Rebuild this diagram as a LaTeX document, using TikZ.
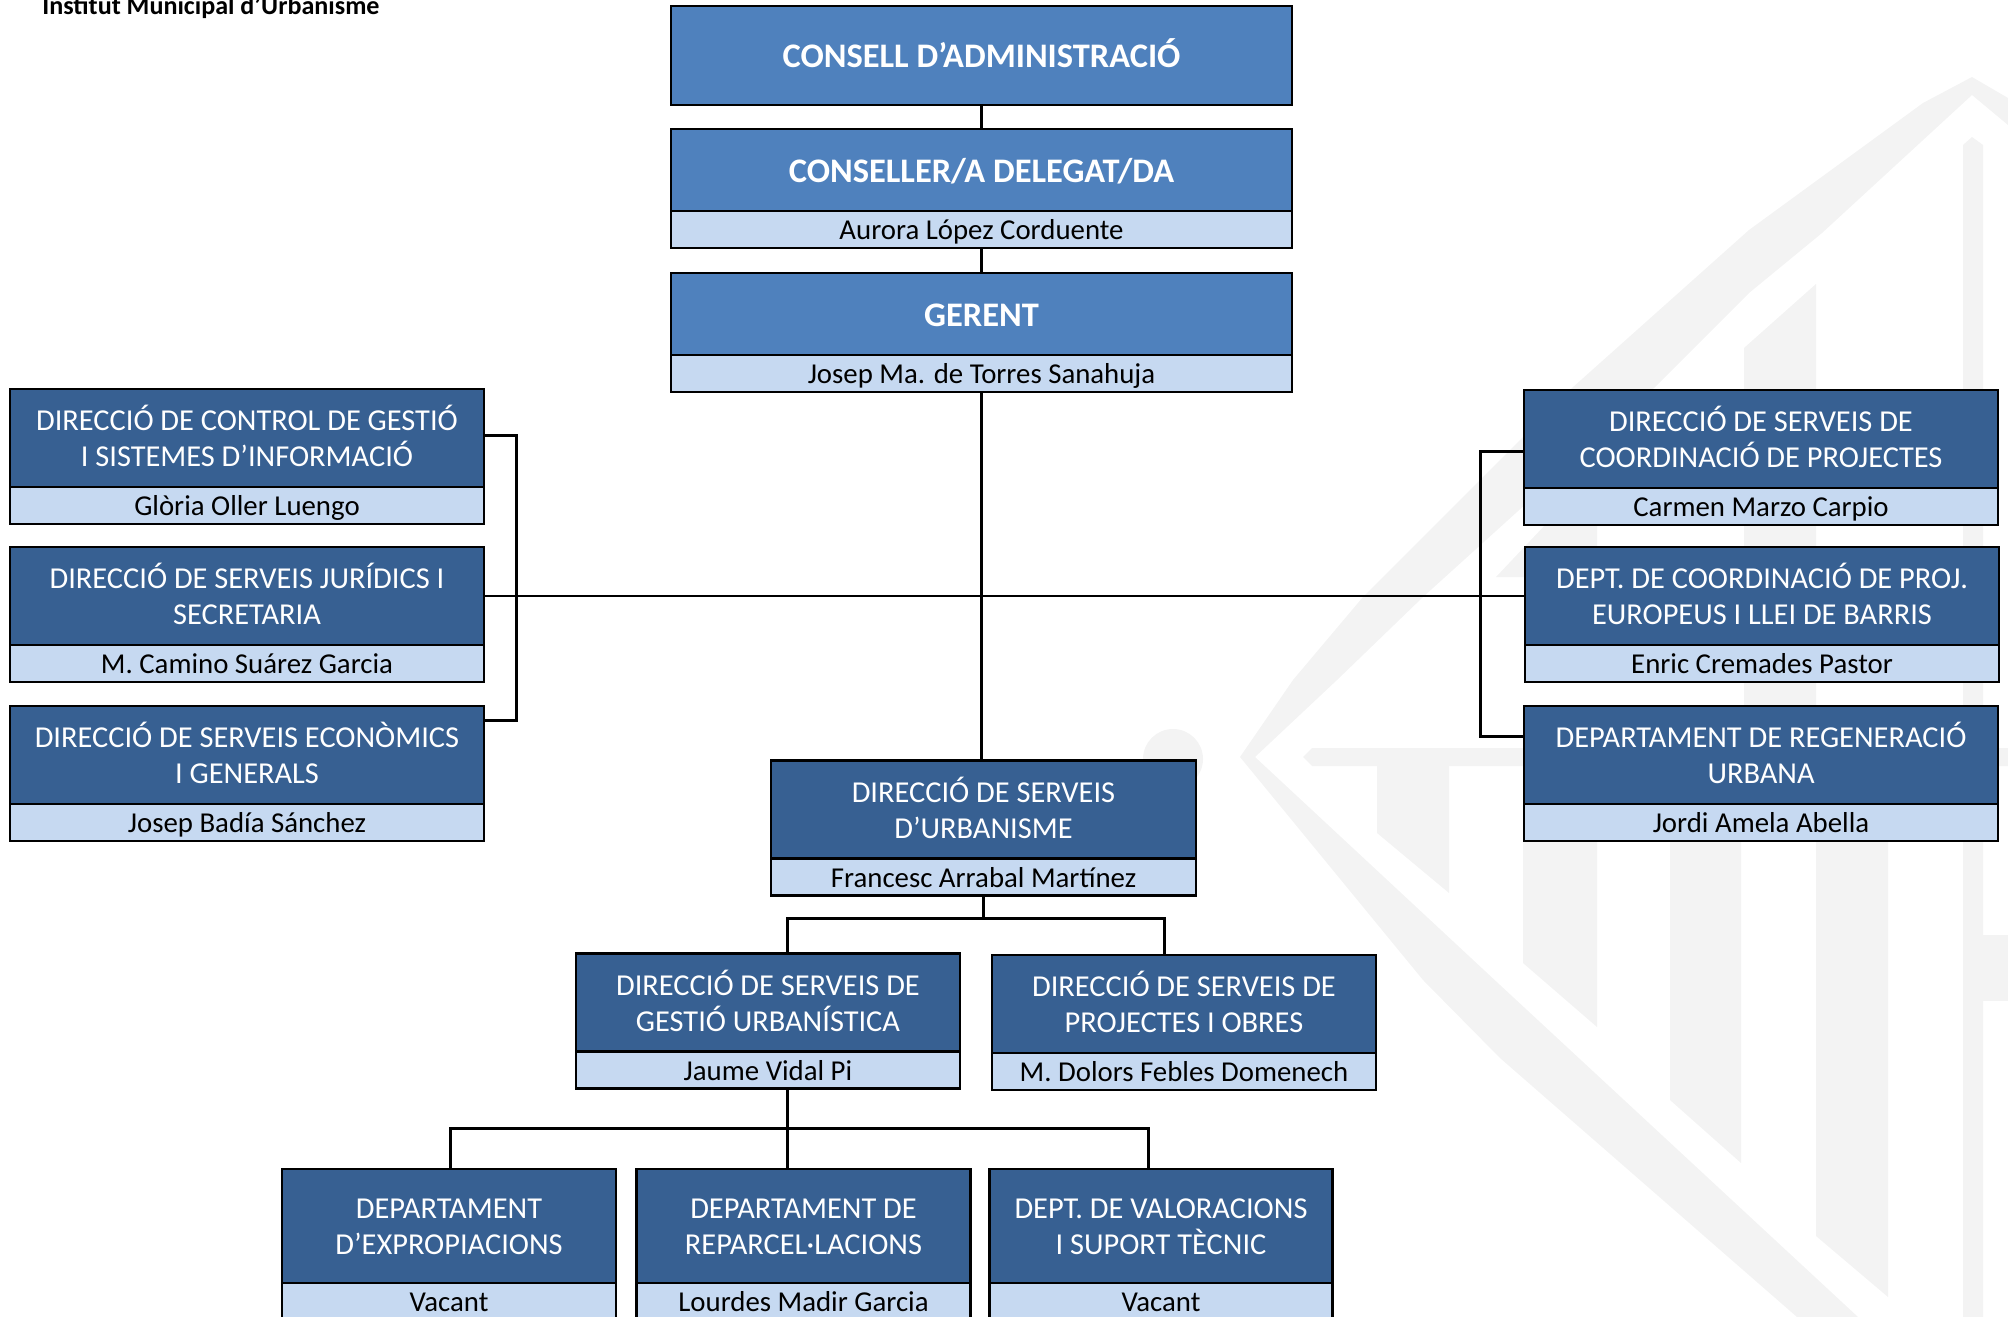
\documentclass[tikz,border=0pt]{standalone}
\usepackage{fontspec}
\setmainfont{Carlito}
\usetikzlibrary{positioning}
\definecolor{topblue}{HTML}{4F81BD}
\definecolor{darkblue}{HTML}{376092}
\definecolor{paleblue}{HTML}{C6D9F1}
\definecolor{markgray}{HTML}{F3F3F3}
\tikzset{
  box/.style={draw=black,line width=0.05cm,inner sep=0pt,outer sep=0pt,align=center},
  head/.style={box,fill=darkblue,text=white,font=\fontsize{17.3}{20.6}\selectfont,minimum height=1.96cm,text height=32.9pt,text depth=0pt},
  tophead/.style={box,fill=topblue,text=white,font=\fontsize{19.6}{23}\selectfont\bfseries,text height=14.1pt,text depth=0pt},
  who/.style={box,fill=paleblue,text=black,font=\fontsize{16.4}{20}\selectfont,minimum height=0.74cm,text height=11.8pt,text depth=0pt},
  side/.style={minimum width=9.48cm},
  middle/.style={minimum width=7.68cm},
  lowbox/.style={minimum width=6.68cm},
  link/.style={draw=black,line width=0.06cm}
}
\begin{document}
\begin{tikzpicture}[x=0.02cm,y=-0.02cm]
\useasboundingbox (0,0) rectangle (2008,1317);

\fill[markgray] (2008,98) -- (1972,77) -- (1923,103) -- (1749,230) -- (1572,388) -- (1363,597) -- (1293,680) -- (1240,757)
  -- (1423,980) -- (1500,1058) -- (1797,1317) -- (1858,1317) -- (1500,985) -- (1255,757) -- (1337,680) -- (1423,597)
  -- (1654,388) -- (1749,293) -- (1822,233) -- (1972,95) -- (2008,125) -- cycle;
\fill[markgray] (1173,759) circle (30);
\fill[markgray] (1303,757) -- (1312,748) -- (2008,748) -- (2008,766) -- (1312,766) -- cycle;
\fill[markgray] (1377,760) -- (1449,760) -- (1449,893) -- (1377,833) -- cycle;
\fill[markgray] (1523,760) -- (1597,760) -- (1597,1027) -- (1523,963) -- cycle;
\fill[markgray] (1670,760) -- (1741,760) -- (1741,1163) -- (1670,1100) -- cycle;
\fill[markgray] (1816,760) -- (1888,760) -- (1888,1297) -- (1816,1236) -- cycle;
\fill[markgray] (1744,348) -- (1816,284) -- (1816,760) -- (1744,760) -- cycle;
\fill[markgray] (1496,577) -- (1597,470) -- (1597,577) -- cycle;
\fill[markgray] (1963,145) -- (1972,137) -- (1983,145) -- (1983,1317) -- (1963,1317) -- cycle;
\fill[markgray] (1983,935) rectangle (2008,1001);

\node[anchor=base west,inner sep=0pt,font=\fontsize{14.85}{18}\selectfont\bfseries](title) at (42,15){Institut Municipal d’Urbanisme};

\node[tophead,minimum width=12.42cm,minimum height=1.98cm](consell) at (981.5,55.5){CONSELL D’ADMINISTRACIÓ};
\node[tophead,minimum width=12.42cm,minimum height=1.64cm](delegat) at (981.5,170){CONSELLER/A DELEGAT/DA};
\node[who,minimum width=12.42cm](delegatname)[below=0pt of delegat]{Aurora López Corduente};
\node[tophead,minimum width=12.42cm,minimum height=1.64cm](gerent) at (981.5,314){GERENT};
\node[who,minimum width=12.42cm](gerentname)[below=0pt of gerent]{Josep Ma. de Torres Sanahuja};

\node[head,side](control) at (247,438){DIRECCIÓ DE CONTROL DE GESTIÓ\\I SISTEMES D’INFORMACIÓ};
\node[who,side](controlname)[below=0pt of control]{Glòria Oller Luengo};
\node[head,side](juridics) at (247,596){DIRECCIÓ DE SERVEIS JURÍDICS I\\SECRETARIA};
\node[who,side](juridicsname)[below=0pt of juridics]{M. Camino Suárez Garcia};
\node[head,side](economics) at (247,755){DIRECCIÓ DE SERVEIS ECONÒMICS\\I GENERALS};
\node[who,side](economicsname)[below=0pt of economics]{Josep Badía Sánchez};

\node[head,side](projectes) at (1761,439){DIRECCIÓ DE SERVEIS DE\\COORDINACIÓ DE PROJECTES};
\node[who,side](projectesname)[below=0pt of projectes]{Carmen Marzo Carpio};
\node[head,side](europeus) at (1762,596){DEPT. DE COORDINACIÓ DE PROJ.\\EUROPEUS I LLEI DE BARRIS};
\node[who,side](europeusname)[below=0pt of europeus]{Enric Cremades Pastor};
\node[head,side](regeneracio) at (1761,755){DEPARTAMENT DE REGENERACIÓ\\URBANA};
\node[who,side](regeneracioname)[below=0pt of regeneracio]{Jordi Amela Abella};

\node[head,minimum width=8.5cm](urbanisme) at (983.5,809.5){DIRECCIÓ DE SERVEIS\\D’URBANISME};
\node[who,minimum width=8.5cm](urbanismename)[below=0pt of urbanisme]{Francesc Arrabal Martínez};

\node[head,middle](gestio) at (768,1002.5){DIRECCIÓ DE SERVEIS DE\\GESTIÓ URBANÍSTICA};
\node[who,middle](gestioname)[below=0pt of gestio]{Jaume Vidal Pi};
\node[head,middle](obres) at (1184,1004){DIRECCIÓ DE SERVEIS DE\\PROJECTES I OBRES};
\node[who,middle](obresname)[below=0pt of obres]{M. Dolors Febles Domenech};

\node[head,lowbox,minimum height=2.28cm](expro) at (449,1226){DEPARTAMENT\\D’EXPROPIACIONS};
\node[who,lowbox](exproname)[below=0pt of expro]{Vacant};
\node[head,lowbox,minimum height=2.28cm](reparcel) at (803.5,1226){DEPARTAMENT DE\\REPARCEL·LACIONS};
\node[who,lowbox](reparcelname)[below=0pt of reparcel]{Lourdes Madir Garcia};
\node[head,minimum width=6.87cm,minimum height=2.28cm](valor) at (1161,1226){DEPT. DE VALORACIONS\\I SUPORT TÈCNIC};
\node[who,minimum width=6.87cm](valorname)[below=0pt of valor]{Vacant};

\coordinate(lefttop) at (516,436);
\coordinate(leftlow) at (516,720);
\coordinate(righttop) at (1480,452);
\coordinate(rightlow) at (1480,736);
\coordinate(urbanl) at (787,918);
\coordinate(urbanr) at (1164,918);
\coordinate(gestiol) at (450,1128);
\coordinate(gestiom) at (787,1128);
\coordinate(gestior) at (1148,1128);

\path[link](consell)edge(delegat)
	 (delegatname)edge(gerent)
	 (gerentname.south)edge(gerentname.south |- urbanisme.north)
	 (urbanismename.south)edge(urbanismename.south |- urbanl)
	 (gestioname.south -| gestiom)edge(reparcel.north -| gestiom);
\draw[link,line width=0.045cm](juridics.east)--(europeus.west);
\draw[link](control.east |- lefttop)--(lefttop)--(leftlow)--(economics.east |- leftlow);
\draw[link](projectes.west |- righttop)--(righttop)--(rightlow)--(regeneracio.west |- rightlow);
\draw[link](gestio.north -| urbanl)--(urbanl)--(urbanr)--(obres.north -| urbanr);
\draw[link](expro.north -| gestiol)--(gestiol)--(gestior)--(valor.north -| gestior);

\end{tikzpicture}
\end{document}
